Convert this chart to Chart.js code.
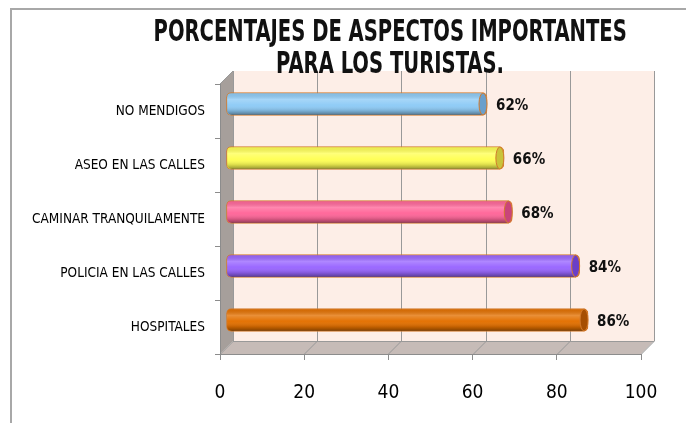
<!DOCTYPE html>
<html>
<head>
<meta charset="utf-8">
<script src="https://cdn.jsdelivr.net/npm/chart.js@4.4.1/dist/chart.umd.min.js"></script>
<style>
  html, body { margin: 0; padding: 0; background: #fff; overflow: hidden; }
  #wrap { position: relative; width: 686px; height: 423px; overflow: hidden; }
  #frame { position: absolute; left: 10px; top: 8px; width: 900px; height: 600px;
           border-top: 2px solid #a8a8a8; border-left: 2px solid #a8a8a8; }
  #title { position: absolute; left: 0; top: 15px; width: 780px; text-align: center;
           font-family: "Liberation Sans Narrow", "DejaVu Sans Condensed", sans-serif;
           font-weight: bold; font-size: 30px; line-height: 32px; color: #111; }
  #title span { display: inline-block; transform-origin: center; }
  canvas { position: absolute; left: 0; top: 0; }
</style>
</head>
<body>
<div id="wrap">
  <div id="frame"></div>
  <canvas id="chart" width="686" height="423"></canvas>
  <div id="title"><span id="t1">PORCENTAJES DE ASPECTOS IMPORTANTES</span><br><span id="t2">PARA LOS TURISTAS.</span></div>
</div>
<script>
const categories = ['NO MENDIGOS', 'ASEO EN LAS CALLES', 'CAMINAR TRANQUILAMENTE', 'POLICIA EN LAS CALLES', 'HOSPITALES'];
const values = [62, 66, 68, 84, 86];
const barColors = ['#8ecbf6', '#ffff55', '#ff6699', '#9966ff', '#e37000'];
const capColors = ['#6a9fcb', '#c9c33a', '#c9447a', '#6a3fc8', '#a64f02'];
const xTicks = [0, 20, 40, 60, 80, 100];

const narrow = '"Liberation Sans Narrow", "DejaVu Sans Condensed", sans-serif';
const DX = 13, DY = -13;       // depth of the 3D box
const SX = 6, SY = -7;         // bars sit in the middle of the depth

// squeeze the title lines to the width they have in the picture
const t1 = document.getElementById('t1');
const squeeze = 'scaleX(' + (473 / t1.offsetWidth) + ')';
t1.style.transform = squeeze;
document.getElementById('t2').style.transform = squeeze;

// back wall, side wall and floor of the 3D box
const wallPlugin = {
    id: 'walls',
    beforeDraw(chart) {
        const ctx = chart.ctx;
        const { left, right, top, bottom } = chart.chartArea;
        const xs = chart.scales.x;
        ctx.save();
        ctx.fillStyle = '#fdeee7';
        ctx.fillRect(left + DX, top + DY, right - left, bottom - top);

        ctx.fillStyle = '#a69f9b';
        ctx.beginPath();
        ctx.moveTo(left, top); ctx.lineTo(left + DX, top + DY);
        ctx.lineTo(left + DX, bottom + DY); ctx.lineTo(left, bottom);
        ctx.closePath(); ctx.fill();

        ctx.fillStyle = '#c6bbb7';
        ctx.beginPath();
        ctx.moveTo(left, bottom); ctx.lineTo(left + DX, bottom + DY);
        ctx.lineTo(right + DX, bottom + DY); ctx.lineTo(right, bottom);
        ctx.closePath(); ctx.fill();

        ctx.strokeStyle = '#999';
        ctx.lineWidth = 1;
        xTicks.forEach(v => {
            const px = Math.round(xs.getPixelForValue(v)) + 0.5;
            ctx.beginPath();
            ctx.moveTo(px + DX, top + DY);
            ctx.lineTo(px + DX, bottom + DY);
            ctx.lineTo(px, bottom);
            ctx.stroke();
        });
        ctx.beginPath();
        ctx.moveTo(left + DX, bottom + DY + 0.5);
        ctx.lineTo(right + DX, bottom + DY + 0.5);
        ctx.moveTo(left, top); ctx.lineTo(left + DX, top + DY);
        ctx.stroke();
        ctx.restore();
    },
    beforeDatasetsDraw(chart) {
        chart.ctx.save();
        chart.ctx.translate(SX, SY);
    },
    afterDatasetsDraw(chart) {
        const ctx = chart.ctx;
        const meta = chart.getDatasetMeta(0);
        meta.data.forEach((bar, i) => {
            const { x, y, base, height } = bar.getProps(['x', 'y', 'base', 'height'], true);
            const h = height, t = y - h / 2;
            // cylinder shading
            const g = ctx.createLinearGradient(0, t, 0, t + h);
            g.addColorStop(0, 'rgba(0,0,0,0.05)');
            g.addColorStop(0.3, 'rgba(255,255,255,0.22)');
            g.addColorStop(0.55, 'rgba(255,255,255,0.02)');
            g.addColorStop(0.8, 'rgba(0,0,0,0.15)');
            g.addColorStop(1, 'rgba(0,0,0,0.45)');
            ctx.fillStyle = g;
            ctx.beginPath();
            ctx.roundRect(base + 0.5, t + 0.5, x - base - 1, h - 1, 5);
            ctx.fill();
            // end cap
            ctx.fillStyle = capColors[i];
            ctx.strokeStyle = '#d27a2c';
            ctx.lineWidth = 1;
            ctx.beginPath();
            ctx.ellipse(x - 4, y, 4, h / 2 - 0.5, 0, 0, Math.PI * 2);
            ctx.fill(); ctx.stroke();
            // value label
            ctx.fillStyle = '#111';
            ctx.font = 'bold 15px ' + narrow;
            ctx.textBaseline = 'middle';
            ctx.textAlign = 'left';
            ctx.fillText(values[i] + '%', x + 9, y + 2);
        });
        ctx.restore();
    }
};

new Chart(document.getElementById('chart'), {
    type: 'bar',
    data: {
        labels: categories,
        datasets: [{
            data: values,
            backgroundColor: barColors,
            borderColor: '#d27a2c',
            borderWidth: 1,
            borderSkipped: false,
            borderRadius: 5,
            barThickness: 23
        }]
    },
    options: {
        indexAxis: 'y',
        responsive: false,
        animation: false,
        layout: { padding: { left: 0, right: 45, top: 84, bottom: 0 } },
        plugins: {
            legend: { display: false },
            title: { display: false },
            tooltip: { enabled: false }
        },
        scales: {
            x: {
                min: xTicks[0],
                max: xTicks[xTicks.length - 1],
                ticks: { stepSize: 20, color: '#000', padding: 22, font: { family: narrow, size: 19 } },
                grid: { drawOnChartArea: false, drawTicks: true, tickLength: 6, color: '#8c8c8c' },
                border: { color: '#8c8c8c' },
                afterFit(scale) { scale.height = 69; }
            },
            y: {
                ticks: { color: '#000', padding: 10, font: { family: narrow, size: 13.5 } },
                grid: { drawOnChartArea: false, drawTicks: true, tickLength: 5, offset: true, color: '#8c8c8c' },
                border: { color: '#8c8c8c' },
                afterFit(scale) { scale.width = 220; }
            }
        }
    },
    plugins: [wallPlugin]
});
</script>
</body>
</html>
